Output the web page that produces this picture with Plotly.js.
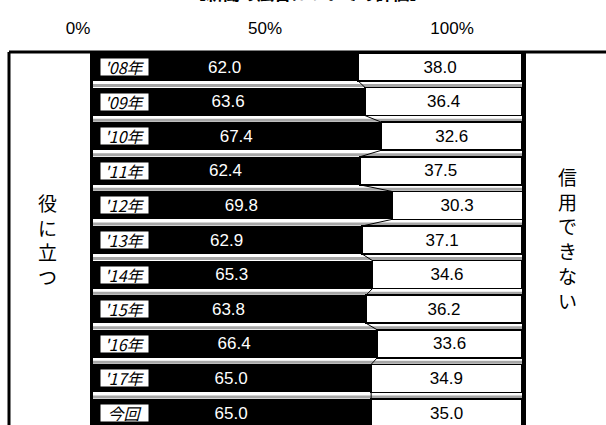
<!DOCTYPE html>
<html>
<head>
<meta charset="utf-8">
<script src="https://cdn.plot.ly/plotly-3.0.1.min.js"></script>
<style>html,body{margin:0;padding:0;background:#fff;}#chart{width:606px;height:425px;}</style>
</head>
<body>
<div id="chart"></div>
<script>
// ---- data ----
const categories = ["'08年", "'09年", "'10年", "'11年", "'12年", "'13年", "'14年", "'15年", "'16年", "'17年", "今回"];
const useful = [62.0, 63.6, 67.4, 62.4, 69.8, 62.9, 65.3, 63.8, 66.4, 65.0, 65.0];
const untrusted = [38.0, 36.4, 32.6, 37.5, 30.3, 37.1, 34.6, 36.2, 33.6, 34.9, 35.0];
const tickValues = [0, 50, 100];
const tickLabels = ['0%', '50%', '100%'];
const leftLabel = '役に立つ';
const rightLabel = '信用できない';
const titleText = '【新聞の広告についての評価】';

// ---- layout helpers ----
const W = 606, H = 425;
const mL = 9, mR = 82, mT = 52, mB = 0;
const pw = W - mL - mR, ph = H - mT - mB;
const px2paperX = p => (p - mL) / pw;
const px2paperY = p => 1 - (p - mT) / ph;

const NUM = '"Liberation Sans", Arial, sans-serif';
const JP = '"Noto Sans CJK JP", "Noto Sans", sans-serif';
const BW = 0.81;

const idx = categories.map((_, i) => i);

const traces = [
  {
    type: 'bar', orientation: 'h', x: useful, y: idx, width: BW,
    marker: {color: '#000000', line: {color: '#000000', width: 0}},
    text: useful.map(v => v.toFixed(1)), textposition: 'inside', insidetextanchor: 'middle',
    textfont: {color: '#ffffff', size: 17, family: NUM}, constraintext: 'none',
    hoverinfo: 'skip', showlegend: false
  },
  {
    type: 'bar', orientation: 'h', x: untrusted, y: idx, width: BW,
    marker: {color: '#ffffff', line: {color: '#000000', width: 1.5}},
    text: untrusted.map(v => v.toFixed(1)), textposition: 'inside', insidetextanchor: 'middle',
    textfont: {color: '#000000', size: 17, family: NUM}, constraintext: 'none',
    hoverinfo: 'skip', showlegend: false
  }
];

// series lines connecting the ends of the black bars
const slx = [], sly = [];
for (let i = 0; i < useful.length - 1; i++) {
  slx.push(useful[i], useful[i + 1], null);
  sly.push(i + BW / 2, i + 1 - BW / 2, null);
}
traces.push({type: 'scatter', mode: 'lines', x: slx, y: sly, line: {color: '#000000', width: 1},
  hoverinfo: 'skip', showlegend: false});
// dummy trace for the top percentage axis
traces.push({type: 'scatter', mode: 'markers', x: [null], y: [null], xaxis: 'x2', yaxis: 'y',
  hoverinfo: 'skip', showlegend: false});

const shapes = [];
for (let i = 1; i < categories.length; i++) {
  shapes.push({type: 'line', xref: 'x', yref: 'y', x0: 0, x1: 100, y0: i - BW / 2 - 0.06, y1: i - BW / 2 - 0.06,
    line: {color: '#a6a6a6', width: 3}, layer: 'below'});
}
// frame
shapes.push({type: 'line', xref: 'paper', yref: 'paper', x0: 0, x1: 0, y0: -0.1, y1: 1, line: {color: '#000', width: 3}});
shapes.push({type: 'line', xref: 'paper', yref: 'paper', x0: 0, x1: px2paperX(W + 2), y0: 1, y1: 1, line: {color: '#000', width: 3}});
shapes.push({type: 'line', xref: 'paper', yref: 'paper', x0: 1, x1: 1, y0: -0.1, y1: 1, line: {color: '#000', width: 4}});

const annotations = categories.map((c, i) => ({
  x: 0, y: i, xref: 'x', yref: 'y', text: '<i>' + c + '</i>', showarrow: false,
  xanchor: 'left', yanchor: 'middle', xshift: 9, width: 47, height: 16, align: 'center',
  bgcolor: '#ffffff', borderpad: 0, font: {family: JP, size: 16, color: '#000'}
}));
annotations.push({
  x: px2paperX(47), y: px2paperY(239), xref: 'paper', yref: 'paper', showarrow: false,
  text: leftLabel.split('').join('<br>'), xanchor: 'center', yanchor: 'middle',
  font: {family: JP, size: 19, color: '#000'}
});
annotations.push({
  x: px2paperX(567), y: px2paperY(238), xref: 'paper', yref: 'paper', showarrow: false,
  text: rightLabel.split('').join('<br>'), xanchor: 'center', yanchor: 'middle',
  font: {family: JP, size: 19, color: '#000'}
});
annotations.push({
  x: px2paperX(308), y: px2paperY(7), xref: 'paper', yref: 'paper', showarrow: false,
  text: '<b>' + titleText + '</b>', xanchor: 'center', yanchor: 'bottom',
  font: {family: JP, size: 17, color: '#000'}
});

const pxPerPct = 4.31, zeroPx = 91;
const pxPerTick = 3.74, tickZeroPx = 78;

const layout = {
  width: W, height: H,
  margin: {l: mL, r: mR, t: mT, b: mB, pad: 0},
  paper_bgcolor: '#ffffff', plot_bgcolor: '#ffffff',
  barmode: 'stack', bargap: 0,
  showlegend: false,
  xaxis: {
    range: [(mL - zeroPx) / pxPerPct, (W - mR - zeroPx) / pxPerPct],
    showgrid: false, zeroline: true, zerolinecolor: '#000', zerolinewidth: 3,
    showticklabels: false, ticks: '', showline: false, fixedrange: true
  },
  xaxis2: {
    overlaying: 'x', anchor: 'y', side: 'top',
    range: [(mL - tickZeroPx) / pxPerTick, (W - mR - tickZeroPx) / pxPerTick],
    tickmode: 'array', tickvals: tickValues, ticktext: tickLabels,
    showgrid: false, zeroline: false, showline: false, ticks: '',
    ticklabelstandoff: 14,
    tickfont: {family: '"Liberation Sans Narrow", "Arial Narrow", Arial, sans-serif', size: 17, color: '#000'}
  },
  yaxis: {
    range: [-0.434 + ph / 34.6, -0.434],
    showgrid: false, zeroline: false, showticklabels: false, ticks: '', showline: false, fixedrange: true
  },
  shapes: shapes,
  annotations: annotations
};

Plotly.newPlot('chart', traces, layout, {displayModeBar: false, staticPlot: true});
</script>
</body>
</html>
